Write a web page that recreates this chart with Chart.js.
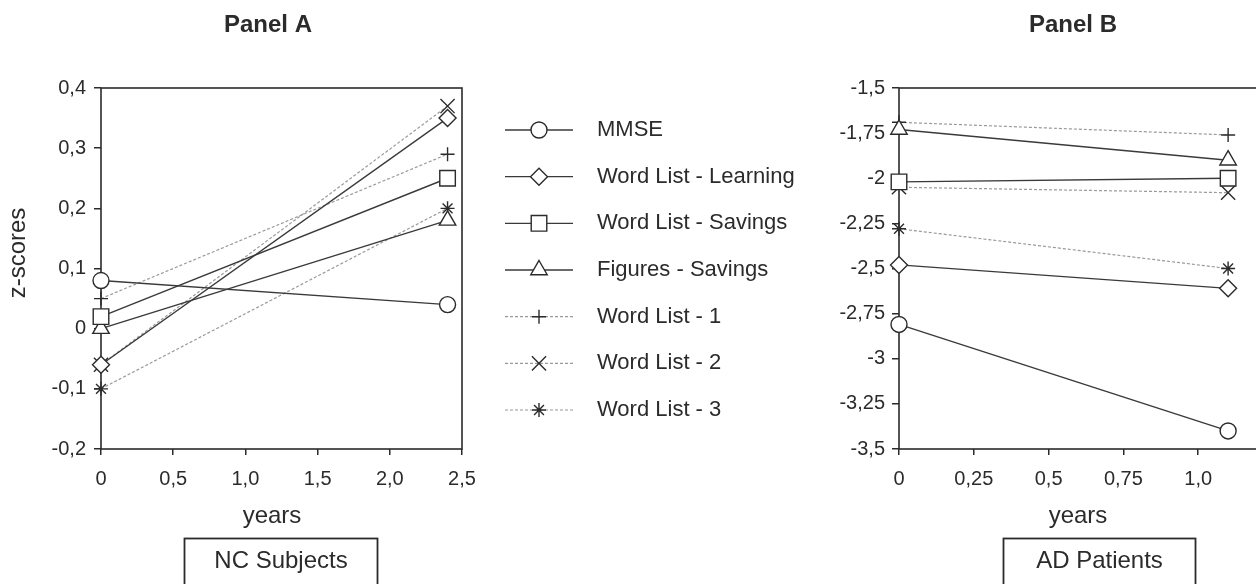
<!DOCTYPE html>
<html><head><meta charset="utf-8">
<script src="https://cdn.jsdelivr.net/npm/chart.js@4.4.1/dist/chart.umd.min.js"></script>
<style>
html,body{margin:0;padding:0;background:#fff;overflow:hidden;width:1256px;height:584px;}
#wrap{position:relative;width:1256px;height:584px;overflow:hidden;background:#fff;}
canvas{position:absolute;top:0;}
#cA{left:0;}
#cB{left:820px;}
</style></head><body>
<div id="wrap"><canvas id="cA" width="840" height="584"></canvas><canvas id="cB" width="483" height="584"></canvas></div>
<script>
// ---------- data ----------
const seriesNames = ['MMSE', 'Word List - Learning', 'Word List - Savings', 'Figures - Savings', 'Word List - 1', 'Word List - 2', 'Word List - 3'];

// Panel A: NC Subjects (x = years)
const yearsA = [0, 2.4];
const mmseA = [0.08, 0.04];
const wlLearningA = [-0.06, 0.35];
const wlSavingsA = [0.02, 0.25];
const figSavingsA = [0.0, 0.18];
const wl1A = [0.05, 0.29];
const wl2A = [-0.06, 0.37];
const wl3A = [-0.1, 0.2];

// Panel B: AD Patients (x = years)
const yearsB = [0, 1.1];
const mmseB = [-2.81, -3.4];
const wlLearningB = [-2.48, -2.61];
const wlSavingsB = [-2.02, -2.0];
const figSavingsB = [-1.73, -1.9];
const wl1B = [-1.69, -1.76];
const wl2B = [-2.05, -2.08];
const wl3B = [-2.28, -2.5];

// tick labels (the 1,25 tick of panel B lies beyond the picture's edge)
const xTickLabelsA = ['0', '0,5', '1,0', '1,5', '2,0', '2,5'];
const yTickLabelsA = ['-0,2', '-0,1', '0', '0,1', '0,2', '0,3', '0,4'];
const xTickLabelsB = ['0', '0,25', '0,5', '0,75', '1,0'];
const yTickLabelsB = ['-3,5', '-3,25', '-3', '-2,75', '-2,5', '-2,25', '-2', '-1,75', '-1,5'];

// ---------- styles ----------
const FONT = "'Liberation Sans', Arial, Helvetica, sans-serif";
const INK = '#2b2b2b';
const SOLID = '#3a3a3a';
const DOT = '#9a9a9a';
const markerStyles = [
  {pointStyle: 'circle', radius: 8},
  {pointStyle: 'rectRot', radius: 8.5},
  {pointStyle: 'rect', radius: 11},
  {pointStyle: 'triangle', radius: 9.5},
  {pointStyle: 'cross', radius: 7},
  {pointStyle: 'crossRot', radius: 10},
  {pointStyle: 'star', radius: 7}
];
const dotted = [false, false, false, false, true, true, true];

function makeDatasets(xs, seriesList) {
  return seriesList.map((vals, i) => ({
    label: seriesNames[i],
    data: vals.map((v, j) => ({x: xs[j], y: v})),
    borderColor: dotted[i] ? DOT : SOLID,
    borderWidth: dotted[i] ? 1.2 : 1.4,
    borderDash: dotted[i] ? [3, 2] : [],
    pointStyle: markerStyles[i].pointStyle,
    pointRadius: markerStyles[i].radius,
    pointBorderColor: INK,
    pointBackgroundColor: '#ffffff',
    pointBorderWidth: 1.4,
    tension: 0,
    clip: false,
    fill: false
  }));
}

function framePlugin() {
  return {
    id: 'frame',
    beforeDatasetsDraw(chart) {
      const a = chart.chartArea, ctx = chart.ctx;
      ctx.save();
      ctx.strokeStyle = INK;
      ctx.lineWidth = 1.6;
      ctx.strokeRect(a.left, a.top, a.right - a.left, a.bottom - a.top);
      ctx.restore();
    }
  };
}

function textPlugin(cfg) {
  return {
    id: 'texts',
    afterDraw(chart) {
      const ctx = chart.ctx;
      ctx.save();
      ctx.fillStyle = INK;
      ctx.textAlign = 'center';
      ctx.textBaseline = 'middle';
      ctx.font = 'bold 24px ' + FONT;
      ctx.fillText(cfg.title, cfg.titleX, 25);
      ctx.font = '24px ' + FONT;
      ctx.fillText('years', cfg.yearsX, 516);
      if (cfg.yTitle) {
        ctx.save();
        ctx.translate(cfg.yTitleX, cfg.yTitleY);
        ctx.rotate(-Math.PI / 2);
        ctx.font = '24px ' + FONT;
        ctx.fillText(cfg.yTitle, 0, 0);
        ctx.restore();
      }
      ctx.strokeStyle = INK;
      ctx.lineWidth = 1.8;
      ctx.strokeRect(cfg.boxX, 538.5, cfg.boxW, 70);
      ctx.font = '24px ' + FONT;
      ctx.fillText(cfg.boxText, cfg.boxX + cfg.boxW / 2, 561);
      ctx.restore();
    }
  };
}

function drawMarker(ctx, style, radius, x, y) {
  if (Chart.helpers && Chart.helpers.drawPoint) {
    Chart.helpers.drawPoint(ctx, {pointStyle: style, radius: radius, rotation: 0, borderWidth: 1.4}, x, y);
  }
}

const legendPlugin = {
  id: 'sideLegend',
  afterDraw(chart) {
    const ctx = chart.ctx;
    const ds = chart.data.datasets;
    const x0 = 505, x1 = 573, xm = 539, xt = 597, y0 = 130, dy = 46.67;
    ctx.save();
    ds.forEach((d, i) => {
      const y = y0 + i * dy;
      ctx.save();
      ctx.strokeStyle = d.borderColor;
      ctx.lineWidth = d.borderWidth;
      ctx.setLineDash(d.borderDash);
      ctx.beginPath();
      ctx.moveTo(x0, y);
      ctx.lineTo(x1, y);
      ctx.stroke();
      ctx.restore();
      ctx.save();
      ctx.strokeStyle = d.pointBorderColor;
      ctx.fillStyle = d.pointBackgroundColor;
      ctx.lineWidth = d.pointBorderWidth;
      drawMarker(ctx, d.pointStyle, d.pointRadius, xm, y);
      ctx.restore();
      ctx.fillStyle = INK;
      ctx.font = '22px ' + FONT;
      ctx.textAlign = 'left';
      ctx.textBaseline = 'middle';
      ctx.fillText(d.label, xt, y);
    });
    ctx.restore();
  }
};

function scaleOpts(min, max, step, labels, tickLen, pad, fixed, isX) {
  return {
    type: 'linear',
    min: min, max: max,
    border: {display: false},
    grid: {display: true, drawOnChartArea: false, drawTicks: true, tickLength: tickLen, color: INK, lineWidth: 1.5},
    ticks: {
      stepSize: step,
      autoSkip: false,
      maxRotation: 0,
      padding: pad,
      color: INK,
      font: {family: FONT, size: 20},
      callback: (v, i) => labels[i]
    },
    afterFit: isX ? (s => { s.height = fixed; }) : (s => { s.width = fixed; })
  };
}

function baseOptions(padRight, xScale, yScale) {
  return {
    responsive: false,
    animation: false,
    events: [],
    layout: {padding: {left: 0, top: 88, right: padRight, bottom: 0}},
    plugins: {legend: {display: false}, title: {display: false}, tooltip: {enabled: false}},
    scales: {x: xScale, y: yScale}
  };
}

// Panel A
new Chart(document.getElementById('cA'), {
  type: 'line',
  data: {datasets: makeDatasets(yearsA, [mmseA, wlLearningA, wlSavingsA, figSavingsA, wl1A, wl2A, wl3A])},
  options: baseOptions(378,
    scaleOpts(0, 2.5, 0.5, xTickLabelsA, 6, 12, 135, true),
    scaleOpts(-0.2, 0.4, 0.1, yTickLabelsA, 7, 8, 101, false)),
  plugins: [framePlugin(), legendPlugin, textPlugin({title: 'Panel A', titleX: 268, yearsX: 272, yTitle: 'z-scores', yTitleX: 18, yTitleY: 253, boxX: 184.5, boxW: 193, boxText: 'NC Subjects'})]
});

// Panel B
new Chart(document.getElementById('cB'), {
  type: 'line',
  data: {datasets: makeDatasets(yearsB, [mmseB, wlLearningB, wlSavingsB, figSavingsB, wl1B, wl2B, wl3B])},
  options: baseOptions(30,
    scaleOpts(0, 1.25, 0.25, xTickLabelsB, 6, 12, 135, true),
    scaleOpts(-3.5, -1.5, 0.25, yTickLabelsB, 7, 7, 79, false)),
  plugins: [framePlugin(), textPlugin({title: 'Panel B', titleX: 253, yearsX: 258, boxX: 183.5, boxW: 192, boxText: 'AD Patients'})]
});
</script>
</body></html>
